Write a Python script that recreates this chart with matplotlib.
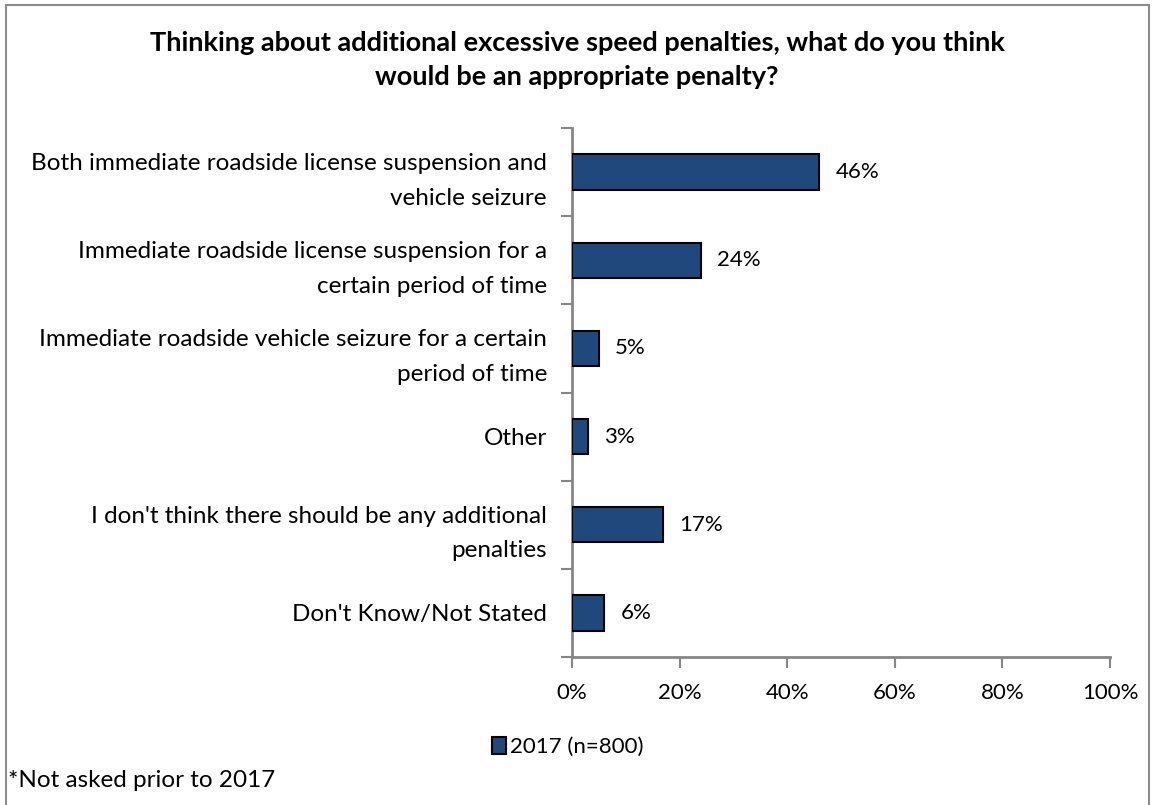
import matplotlib.pyplot as plt
from matplotlib.patches import Rectangle

plt.rcParams['font.family'] = ['Lato', 'DejaVu Sans']

categories = [
    "Both immediate roadside license suspension and\nvehicle seizure",
    "Immediate roadside license suspension for a\ncertain period of time",
    "Immediate roadside vehicle seizure for a certain\nperiod of time",
    "Other",
    "I don't think there should be any additional\npenalties",
    "Don't Know/Not Stated",
]
values = [46, 24, 5, 3, 17, 6]
xticks = [0, 20, 40, 60, 80, 100]
series_label = "2017 (n=800)"
title = ("Thinking about additional excessive speed penalties, what do you think\n"
         "would be an appropriate penalty?")
footnote = "*Not asked prior to 2017"

bar_color = "#1F497D"
axis_color = "#868686"
fs = 17.5      # category labels and footnote
fs_num = 16    # numeric labels

fig = plt.figure(figsize=(11.52, 8.05), dpi=100)
W, H = 1152, 805
ax = fig.add_axes([572 / W, 1 - 657 / H, (1110 - 572) / W, (657 - 128) / H])

n = len(categories)
ypos = list(range(n))
bars = ax.barh(ypos, values, height=0.4, color=bar_color, edgecolor="black",
               linewidth=1.5, label=series_label, zorder=3)
ax.set_ylim(n - 0.5, -0.5)
ax.set_xlim(0, 100)

for y, v in zip(ypos, values):
    ax.text(v + 3.0, y, f"{v}%", va="center", ha="left", fontsize=fs_num)

ax.set_yticks(ypos)
ax.set_yticklabels(categories, fontsize=fs, ha="right", multialignment="right",
                   linespacing=1.8)
ax.tick_params(axis="y", length=0, pad=18)
ax.set_yticks([i - 0.5 for i in range(n + 1)], minor=True)
ax.tick_params(axis="y", which="minor", length=8, width=1.5, color=axis_color, direction="out")

ax.set_xticks(xticks)
ax.set_xticklabels([f"{t}%" for t in xticks], fontsize=fs_num)
ax.tick_params(axis="x", length=8, width=1.5, color=axis_color, pad=11, direction="out")

for s in ["top", "right"]:
    ax.spines[s].set_visible(False)
for s in ["left", "bottom"]:
    ax.spines[s].set_color(axis_color)
    ax.spines[s].set_linewidth(2)

fig.text(577 / W, 1 - 60 / H, title, ha="center", va="center", fontsize=19.5,
         fontweight="bold", linespacing=1.5)

leg = fig.legend(handles=[bars], labels=[series_label], loc="center",
                 bbox_to_anchor=(568 / W, 1 - 747 / H), frameon=False, fontsize=fs_num,
                 handlelength=0.6, handleheight=0.8, handletextpad=0.2)

fig.text(8 / W, 1 - 780 / H, footnote, ha="left", va="center", fontsize=fs)

fig.patches.append(Rectangle((6 / W, -0.01), (1149 - 6) / W, 1 - 5 / H + 0.01,
                             transform=fig.transFigure, fill=False,
                             edgecolor="#8C8C8C", linewidth=1.5))

fig.savefig("out.png", dpi=100)
